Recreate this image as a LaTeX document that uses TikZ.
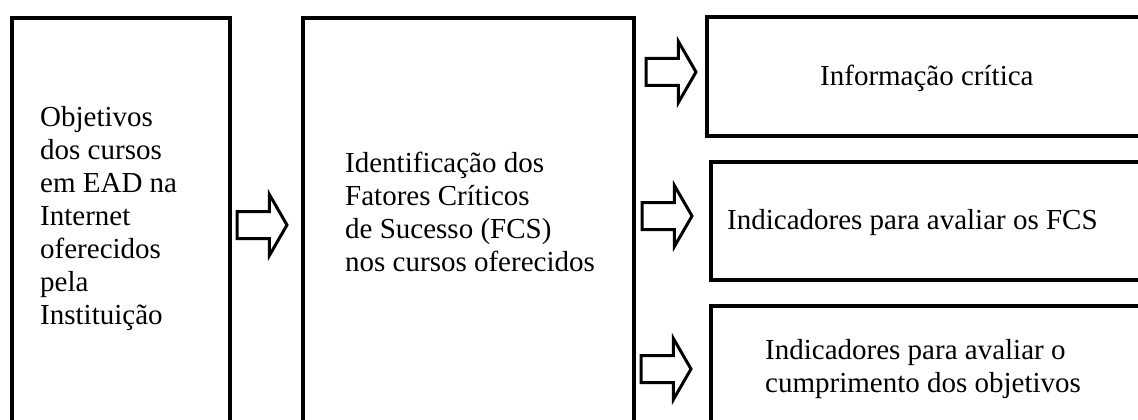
\documentclass[tikz,border=0pt]{standalone}
\usepackage{fontspec}
\setmainfont{Liberation Serif}
\usetikzlibrary{shapes.arrows, positioning}

\begin{document}
\begin{tikzpicture}[
  x=1pt, y=-1pt,
  every node/.style={font=\fontsize{29}{33}\selectfont},
  box/.style={draw, line width=4pt, inner sep=0pt, outer sep=0pt, anchor=north west},
  txt/.style={anchor=north west, inner sep=0pt, align=left},
  bigarrow/.style={single arrow, draw, line width=3pt, inner sep=12pt, outer sep=0pt,
    single arrow head extend=17pt, single arrow tip angle=120,
    minimum height=50pt, anchor=tail}
]
\clip (0,0) rectangle (1138,420);
\useasboundingbox (0,0) rectangle (1138,420);

\node[box, minimum width=218.5pt, minimum height=460pt] (objetivos) at (11.5,18) {};
\node[box, minimum width=331.5pt, minimum height=460pt] (fcs) at (302.5,18) {};
\node[box, minimum width=460pt, minimum height=118pt] (info) at (707,17.5) {};
\node[box, minimum width=460pt, minimum height=118pt] (indfcs) at (710.5,161.5) {};
\node[box, minimum width=460pt, minimum height=160pt] (indobj) at (710.5,305.5) {};

\node[txt] (tobj) at (40,106) {Objetivos\\dos cursos\\em EAD na\\Internet\\oferecidos\\pela\\Institui\c{c}\~ao};
\node[txt] (tfcs) at (345,152) {Identifica\c{c}\~ao dos\\Fatores Cr\'iticos\\de Sucesso (FCS)\\nos cursos oferecidos};
\node[txt] (tinfo) at (820,65) {Informa\c{c}\~ao cr\'itica};
\node[txt] (tindfcs) at (727,209) {Indicadores para avaliar os FCS};
\node[txt] (tindobj) at (765,339) {Indicadores para avaliar o\\cumprimento dos objetivos};

\node[bigarrow] (a1) at (237,225) {};
\node[bigarrow] (a2) at (646,72) {};
\node[bigarrow] (a3) at (642,216) {};
\node[bigarrow] (a4) at (641,369) {};

\end{tikzpicture}
\end{document}
